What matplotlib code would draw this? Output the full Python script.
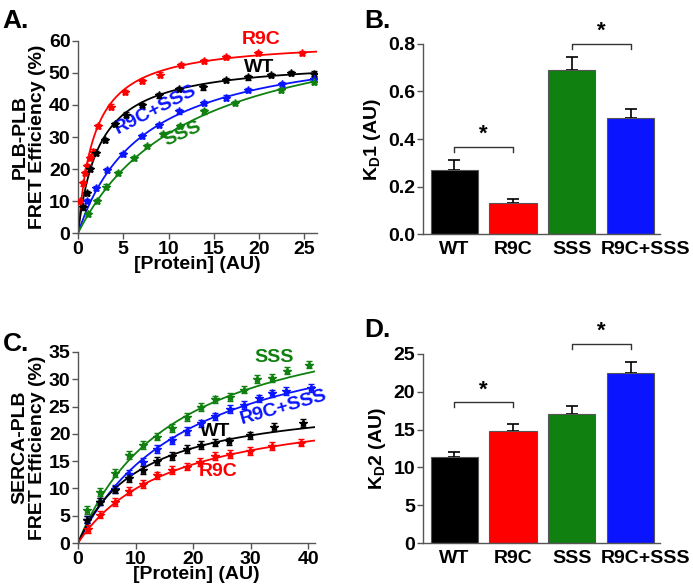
import numpy as np
import matplotlib
matplotlib.use("Agg")
import matplotlib.pyplot as plt
from matplotlib.transforms import ScaledTranslation

plt.rcParams['font.family'] = ['Liberation Sans', 'DejaVu Sans']
plt.rcParams['font.weight'] = 'bold'
plt.rcParams['axes.labelweight'] = 'bold'
plt.rcParams['mathtext.fontset'] = 'custom'
plt.rcParams['mathtext.rm'] = 'Liberation Sans:bold'
plt.rcParams['mathtext.it'] = 'Liberation Sans:bold'
plt.rcParams['mathtext.bf'] = 'Liberation Sans:bold'
plt.rcParams['mathtext.default'] = 'rm'

RED = "#ff0000"
BLACK = "#000000"
GREEN = "#108010"
BLUE = "#0a14ff"

# Panel A: PLB-PLB binding curves
a_r9c_x = [0.25, 0.5, 0.75, 1.0, 1.3, 1.6, 2.2, 3.6, 5.2, 7.1, 9.1, 11.4, 13.9, 16.4, 19.9, 24.8]
a_r9c_y = [10.0, 15.5, 18.7, 20.8, 23.5, 25.4, 33.5, 39.5, 44.0, 47.5, 49.5, 52.5, 53.8, 55.0, 56.3, 56.2]
a_wt_x = [0.5, 1.0, 1.3, 2.0, 3.0, 4.1, 5.3, 7.1, 8.9, 11.2, 13.8, 16.4, 18.8, 21.3, 23.5, 26.1]
a_wt_y = [8.0, 12.5, 20.0, 25.0, 29.0, 34.0, 37.0, 40.0, 43.0, 45.0, 45.5, 47.8, 48.6, 49.3, 50.0, 49.8]
a_mix_x = [1.0, 2.0, 3.2, 5.0, 7.1, 8.9, 11.2, 13.9, 16.4, 18.8, 22.5, 26.1]
a_mix_y = [10.0, 14.0, 19.7, 24.7, 30.3, 33.7, 38.0, 40.7, 42.3, 44.7, 46.5, 48.0]
a_sss_x = [1.1, 2.1, 3.1, 4.4, 6.2, 7.6, 9.4, 11.3, 13.9, 17.3, 22.4, 26.1]
a_sss_y = [6.0, 10.0, 14.5, 18.7, 23.4, 27.2, 31.0, 33.5, 38.0, 40.7, 44.7, 47.2]
# hyperbolic fit parameters: Bmax, Kd
a_bmax = {"R9C": 60.5, "WT": 54.5, "R9C+SSS": 61.5, "SSS": 70.0}
a_kd = {"R9C": 1.78, "WT": 2.36, "R9C+SSS": 7.3, "SSS": 12.5}

# Panel C: SERCA-PLB binding curves
c_sss_x = [1.6, 3.9, 6.4, 8.9, 11.3, 13.7, 16.3, 18.9, 21.3, 23.8, 26.5, 28.8, 31.1, 33.7, 36.3, 40.1]
c_sss_y = [6.1, 9.3, 12.8, 16.1, 18.0, 19.5, 21.1, 23.1, 24.9, 26.3, 26.7, 28.1, 30.1, 30.2, 31.6, 32.7]
c_mix_x = [1.6, 3.9, 6.4, 8.8, 11.3, 13.7, 16.3, 18.9, 21.3, 23.8, 26.5, 28.8, 31.4, 33.7, 36.2, 40.5]
c_mix_y = [4.3, 7.6, 9.9, 12.6, 14.8, 17.2, 18.8, 20.5, 21.9, 23.2, 24.6, 25.3, 26.5, 27.4, 27.8, 28.4]
c_wt_x = [1.6, 3.9, 6.4, 8.9, 11.3, 13.8, 16.3, 18.9, 21.3, 23.8, 26.3, 29.9, 34.0, 39.2]
c_wt_y = [4.3, 7.6, 9.8, 11.9, 13.4, 15.0, 15.9, 17.2, 18.0, 18.4, 18.6, 19.7, 21.2, 22.0]
c_r9c_x = [1.7, 3.9, 6.4, 8.9, 11.3, 13.7, 16.3, 18.9, 21.2, 23.8, 26.5, 29.9, 33.7, 38.7]
c_r9c_y = [2.6, 5.2, 7.5, 9.5, 10.8, 12.4, 13.4, 14.0, 14.8, 15.9, 16.3, 16.8, 17.8, 18.4]
c_bmax = {"SSS": 44.5, "R9C+SSS": 42.2, "WT": 26.8, "R9C": 26.3}
c_kd = {"SSS": 17.1, "R9C+SSS": 19.6, "WT": 10.8, "R9C": 16.5}

# Panels B and D: bar charts
groups = ["WT", "R9C", "SSS", "R9C+SSS"]
bar_colors = [BLACK, RED, GREEN, BLUE]
kd1 = [0.27, 0.13, 0.69, 0.49]
kd1_err = [0.04, 0.017, 0.055, 0.035]
kd2 = [11.4, 14.8, 17.0, 22.5]
kd2_err = [0.7, 0.9, 1.1, 1.5]

fig = plt.figure(figsize=(6.93, 5.88), dpi=100)
axA = fig.add_axes([0.1126, 0.6037, 0.3448, 0.3266])
axB = fig.add_axes([0.6104, 0.602, 0.342, 0.3232])
axC = fig.add_axes([0.1126, 0.0765, 0.3419, 0.3249])
axD = fig.add_axes([0.6104, 0.0765, 0.342, 0.3215])


def style(ax):
    for s in ["top", "right"]:
        ax.spines[s].set_visible(False)
    for s in ["left", "bottom"]:
        ax.spines[s].set_color("#555555")
        ax.spines[s].set_linewidth(1.0)
    ax.tick_params(width=1.0, length=4, color="#555555", pad=1.5)


def set_ticks(ax, xt, xl, yt, yl):
    ax.set_xticks(xt, xl, fontsize=14, fontweight="bold")
    ax.set_yticks(yt, yl, fontsize=14, fontweight="bold")


def curve(ax, xs, ys, bmax, kd, color, xmax):
    ax.errorbar(xs, ys, yerr=0.7, fmt="*", ms=6, color=color, ecolor=color,
                elinewidth=1.0, capsize=2.5, zorder=3)
    xx = np.linspace(0, xmax, 300)
    ax.plot(xx, bmax * xx / (kd + xx), color=color, lw=1.3, zorder=2)


# Panel A
style(axA)
curve(axA, a_r9c_x, a_r9c_y, a_bmax["R9C"], a_kd["R9C"], RED, 26.4)
curve(axA, a_wt_x, a_wt_y, a_bmax["WT"], a_kd["WT"], BLACK, 26.4)
curve(axA, a_mix_x, a_mix_y, a_bmax["R9C+SSS"], a_kd["R9C+SSS"], BLUE, 26.4)
curve(axA, a_sss_x, a_sss_y, a_bmax["SSS"], a_kd["SSS"], GREEN, 26.4)
axA.set_xlim(0, 26.4)
axA.set_ylim(0, 60)
xt = [0, 5, 10, 15, 20, 25]
yt = [0, 10, 20, 30, 40, 50, 60]
set_ticks(axA, xt, [str(t) for t in xt], yt, [str(t) for t in yt])
axA.set_xlabel("[Protein] (AU)", fontsize=14, labelpad=-1)
axA.set_ylabel("PLB-PLB\nFRET Efficiency (%)", fontsize=14, labelpad=2, linespacing=1.05)
axA.text(20.2, 60.5, "R9C", color=RED, fontsize=14, ha="center", va="center", clip_on=False)
axA.text(20.0, 51.6, "WT", color=BLACK, fontsize=14, ha="center", va="center")
axA.text(8.6, 38.4, "R9C+SSS", color=BLUE, fontsize=14, ha="center", va="center", rotation=27)
axA.text(11.6, 31.0, "SSS", color=GREEN, fontsize=14, ha="center", va="center", rotation=24)

# Panel C
style(axC)
curve(axC, c_sss_x, c_sss_y, c_bmax["SSS"], c_kd["SSS"], GREEN, 41.2)
curve(axC, c_mix_x, c_mix_y, c_bmax["R9C+SSS"], c_kd["R9C+SSS"], BLUE, 41.2)
curve(axC, c_wt_x, c_wt_y, c_bmax["WT"], c_kd["WT"], BLACK, 41.2)
curve(axC, c_r9c_x, c_r9c_y, c_bmax["R9C"], c_kd["R9C"], RED, 41.2)
axC.set_xlim(0, 41.2)
axC.set_ylim(0, 35)
xt = [0, 10, 20, 30, 40]
yt = [0, 5, 10, 15, 20, 25, 30, 35]
set_ticks(axC, xt, [str(t) for t in xt], yt, [str(t) for t in yt])
axC.set_xlabel("[Protein] (AU)", fontsize=14, labelpad=-1)
axC.set_ylabel("SERCA-PLB\nFRET Efficiency (%)", fontsize=14, labelpad=2, linespacing=1.05)
axC.text(34.1, 33.9, "SSS", color=GREEN, fontsize=14, ha="center", va="center")
axC.text(35.8, 24.9, "R9C+SSS", color=BLUE, fontsize=14, ha="center", va="center", rotation=16)
axC.text(23.8, 20.5, "WT", color=BLACK, fontsize=14, ha="center", va="center")
axC.text(24.4, 13.1, "R9C", color=RED, fontsize=14, ha="center", va="center")


def bars(ax, vals, errs, ylim, yticks, fmt, ylabel, brackets):
    style(ax)
    pos = np.arange(len(groups))
    ax.bar(pos, vals, width=0.8, color=bar_colors, edgecolor="#555555", linewidth=0.8, zorder=2)
    ax.errorbar(pos, vals, yerr=[np.zeros(len(vals)), errs], fmt="none", ecolor="black",
                elinewidth=1.2, capsize=4, capthick=1.2, zorder=1)
    ax.set_xlim(-0.53, 3.5)
    ax.set_ylim(*ylim)
    set_ticks(ax, pos, groups, yticks, [fmt % t for t in yticks])
    ax.tick_params(axis="x", length=0, pad=5)
    # the last category label sits a little right of its bar, as in the original
    last = ax.get_xticklabels()[-1]
    last.set_transform(last.get_transform() + ScaledTranslation(0.15, 0, fig.dpi_scale_trans))
    ax.set_ylabel(ylabel, fontsize=14, labelpad=4)
    for (i, j, y, h) in brackets:
        ax.plot([i, i, j, j], [y - h, y, y, y - h], color="#333333", lw=1.0, clip_on=False)
        ax.text((i + j) / 2, y + h * 0.4, "*", fontsize=16, ha="center", va="bottom", clip_on=False)


bars(axB, kd1, kd1_err, (0, 0.8), [0.0, 0.2, 0.4, 0.6, 0.8], "%.1f",
     "K$_D$1 (AU)", [(0, 1, 0.366, 0.02), (2, 3, 0.80, 0.02)])
bars(axD, kd2, kd2_err, (0, 25), [0, 5, 10, 15, 20, 25], "%d",
     "K$_D$2 (AU)", [(0, 1, 18.6, 0.65), (2, 3, 26.3, 0.65)])

fig.text(0.004, 0.985, "A.", fontsize=19, va="top", ha="left")
fig.text(0.525, 0.985, "B.", fontsize=19, va="top", ha="left")
fig.text(0.004, 0.435, "C.", fontsize=19, va="top", ha="left")
fig.text(0.525, 0.46, "D.", fontsize=19, va="top", ha="left")

fig.savefig("out.png", dpi=100)
